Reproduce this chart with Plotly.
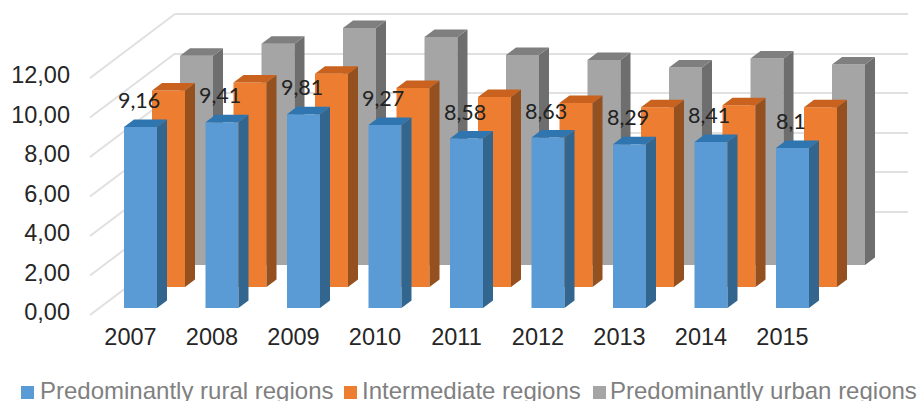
import plotly.graph_objects as go

years = [2007, 2008, 2009, 2010, 2011, 2012, 2013, 2014, 2015]
rural = [9.16, 9.41, 9.81, 9.27, 8.58, 8.63, 8.29, 8.41, 8.1]
intermediate = [9.95, 10.35, 10.8, 10.08, 9.62, 9.32, 9.1, 9.2, 9.1]
urban = [10.6, 11.2, 12.0, 11.54, 10.63, 10.38, 10.0, 10.45, 10.15]
y_ticks = [0, 2, 4, 6, 8, 10, 12]
series_names = ["Predominantly rural regions", "Intermediate regions", "Predominantly urban regions"]

W, H = 919, 401
PX_UNIT = 19.75   # px per value unit
PX_YEAR = 81.5    # px per year
BAR_W = 33 / PX_YEAR
DX = 10 / PX_YEAR
DY = 7.5 / PX_UNIT

fig = go.Figure()


def add_axes(n, first_center, zero_px):
    sx = "" if n == 1 else str(n)
    fig.layout[f"xaxis{sx}"] = dict(
        domain=[0, 1],
        range=[2007 - first_center / PX_YEAR, 2007 + (W - first_center) / PX_YEAR],
        visible=False, fixedrange=True, anchor=f"y{sx}",
    )
    fig.layout[f"yaxis{sx}"] = dict(
        domain=[(H - zero_px) / H, 1],
        range=[0, zero_px / PX_UNIT],
        visible=False, fixedrange=True, anchor=f"x{sx}",
    )


def add_series(n, name, vals, front, side, top):
    xa, ya = f"x{n}", f"y{n}"
    fig.add_trace(go.Bar(
        x=years, y=vals, name=name, width=BAR_W, marker=dict(color=front, line=dict(width=0)),
        xaxis=xa, yaxis=ya, hoverinfo="skip", showlegend=False,
    ))
    for yr, v in zip(years, vals):
        r = yr + BAR_W / 2
        l = yr - BAR_W / 2
        fig.add_trace(go.Scatter(
            x=[r, r + DX, r + DX, r, r], y=[0, DY, v + DY, v, 0], mode="lines", fill="toself",
            fillcolor=side, line=dict(width=0), showlegend=False, xaxis=xa, yaxis=ya, hoverinfo="skip",
        ))
        fig.add_trace(go.Scatter(
            x=[l, l + DX, r + DX, r, l], y=[v, v + DY, v + DY, v, v], mode="lines", fill="toself",
            fillcolor=top, line=dict(width=0), showlegend=False, xaxis=xa, yaxis=ya, hoverinfo="skip",
        ))


# subplot order sets the depth: wall (1), urban (2), intermediate (3), rural (4), tick labels (5)
add_axes(1, 196.5, 251)
add_axes(2, 196.5, 265)
add_axes(3, 168.5, 287)
add_axes(4, 140.5, 308)
add_axes(5, 130.5, 312)

add_series(4, series_names[0], rural, "#5B9BD5", "#33668F", "#2F75B0")
add_series(3, series_names[1], intermediate, "#ED7D31", "#94501F", "#C8621E")
add_series(2, series_names[2], urban, "#A5A5A5", "#6E6E6E", "#7F7F7F")

# back wall grid
fig.layout.yaxis.update(visible=True, showgrid=True, gridcolor="#E0E0E0", gridwidth=2, tickvals=y_ticks,
                        showticklabels=False, ticks="", zeroline=False, showline=False)
fig.layout.xaxis.update(domain=[175 / W, 908 / W],
                        range=[2007 - 21.5 / PX_YEAR, 2007 + (908 - 175 - 21.5) / PX_YEAR])
fig.add_trace(go.Scatter(x=years, y=[0] * len(years), mode="markers", marker=dict(opacity=0), showlegend=False,
                         xaxis="x", yaxis="y", hoverinfo="skip"))

# visible tick labels
TICK_FONT = dict(family="Liberation Sans", size=23.5, color="#262626")
fig.layout.yaxis5.update(visible=True, tickvals=y_ticks, ticktext=[f"{v:.2f}".replace(".", ",") for v in y_ticks],
                         showgrid=False, zeroline=False, showline=False, ticks="", tickfont=TICK_FONT,
                         side="left", anchor="free", position=70 / W, ticklabelposition="outside")
fig.layout.xaxis5.update(visible=True, tickvals=years, ticktext=[str(y) for y in years], showgrid=False,
                         zeroline=False, showline=False, ticks="", tickfont=TICK_FONT, ticklabelstandoff=8)
fig.add_trace(go.Scatter(x=years, y=[0] * len(years), mode="markers", marker=dict(opacity=0), showlegend=False,
                         xaxis="x5", yaxis="y5", hoverinfo="skip"))

# side wall diagonals
for v in y_ticks:
    y_front = 315 - v * PX_UNIT
    fig.add_shape(type="line", layer="below", xref="paper", yref="paper",
                  x0=90 / W, x1=175 / W, y0=(H - y_front) / H, y1=(H - (y_front - 64)) / H,
                  line=dict(color="#E0E0E0", width=2))

# data labels for the rural series
for yr, v in zip(years, rural):
    fig.add_annotation(x=yr, y=v, xref="x4", yref="y4", text=str(v).replace(".", ","), showarrow=False,
                       yshift=27, xshift=-2, font=dict(family="Lato", size=21.5, color="#222222"))

# legend row
legend_swatch_x = [21, 344, 593]
legend_text_x = [40, 362, 610]
legend_colors = ["#5B9BD5", "#ED7D31", "#A5A5A5"]
for name, sx, tx, col in zip(series_names, legend_swatch_x, legend_text_x, legend_colors):
    fig.add_shape(type="rect", xref="paper", yref="paper", x0=sx / W, x1=(sx + 13) / W,
                  y0=(H - 399) / H, y1=(H - 386) / H, fillcolor=col, line=dict(width=0))
    fig.add_annotation(x=tx / W, y=(H - 390.5) / H, xref="paper", yref="paper", xanchor="left", yanchor="middle",
                       xshift=-2, text=name, showarrow=False,
                       font=dict(family="Liberation Sans", size=24, color="#808080"))

fig.update_layout(
    width=W, height=H, margin=dict(l=0, r=0, t=0, b=0, autoexpand=False), autosize=False,
    paper_bgcolor="white", plot_bgcolor="rgba(0,0,0,0)", barmode="overlay", showlegend=False,
)

fig.write_html("out.html", config={"displayModeBar": False},
               post_script="document.body.style.margin='0';document.body.style.overflow='hidden';")
